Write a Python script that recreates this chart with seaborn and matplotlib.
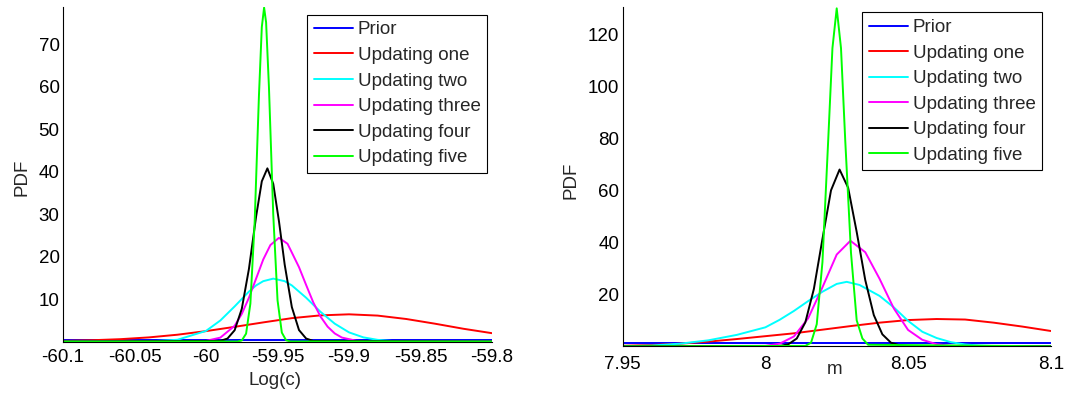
import numpy as np
import pandas as pd
import matplotlib
matplotlib.use("Agg")
import matplotlib.pyplot as plt
import seaborn as sns

# ---------------------------------------------------------------------------
# Data: posterior PDFs after each updating step
# ---------------------------------------------------------------------------
series_names = ["Prior", "Updating one", "Updating two", "Updating three",
                "Updating four", "Updating five"]
series_colors = ["#0000FF", "#FF0000", "#00FFFF", "#FF00FF", "#000000", "#00FF00"]

# Left panel: Log(c)
logc_prior_x = [-60.10, -59.80]
logc_prior_y = [0.3, 0.3]

logc_one_x = [-60.10, -60.08, -60.06, -60.04, -60.02, -60.00, -59.98, -59.96,
              -59.94, -59.92, -59.90, -59.88, -59.86, -59.84, -59.82, -59.80]
logc_one_y = [0.14, 0.30, 0.55, 0.97, 1.60, 2.45, 3.45, 4.50,
              5.50, 6.15, 6.40, 6.10, 5.30, 4.20, 3.00, 1.96]

logc_two_x = [-60.10, -60.04, -60.02, -60.00, -59.99, -59.98, -59.97, -59.965,
              -59.96, -59.953, -59.945, -59.94, -59.93, -59.92, -59.91, -59.90,
              -59.89, -59.88, -59.87, -59.86, -59.80]
logc_two_y = [0.0, 0.03, 0.41, 2.5, 4.95, 8.26, 11.75, 13.2,
              14.2, 14.8, 14.2, 13.2, 10.3, 7.0, 4.2, 2.15,
              0.98, 0.39, 0.13, 0.04, 0.0]

logc_three_x = [-60.10, -60.00, -59.99, -59.98, -59.975, -59.97, -59.965, -59.96,
                -59.955, -59.949, -59.943, -59.935, -59.93, -59.925, -59.92,
                -59.915, -59.91, -59.905, -59.895, -59.885, -59.80]
logc_three_y = [0.0, 0.15, 0.92, 3.7, 6.5, 10.3, 14.8, 19.3,
                22.7, 24.4, 23.0, 17.5, 13.3, 9.2, 5.9,
                3.5, 1.9, 0.93, 0.18, 0.02, 0.0]

logc_four_x = [-60.10, -59.99, -59.985, -59.98, -59.975, -59.97, -59.965, -59.961,
               -59.9571, -59.953, -59.949, -59.945, -59.94, -59.935, -59.93,
               -59.925, -59.80]
logc_four_y = [0.0, 0.15, 0.7, 2.65, 7.7, 17.1, 29.4, 37.7,
               40.75, 37.1, 28.3, 18.1, 8.1, 2.7, 0.7,
               0.13, 0.0]

logc_five_x = [-60.10, -59.978, -59.975, -59.972, -59.969, -59.966, -59.963, -59.961,
               -59.9594, -59.958, -59.956, -59.953, -59.95, -59.947, -59.944,
               -59.941, -59.80]
logc_five_y = [0.0, 0.0, 0.25, 1.85, 8.9, 28.1, 57.9, 74.0,
               78.6, 75.1, 59.8, 29.9, 9.7, 2.1, 0.29,
               0.0, 0.0]

# Right panel: m
m_prior_x = [7.95, 8.10]
m_prior_y = [1.15, 1.15]

m_one_x = [7.95, 7.96, 7.97, 7.98, 7.99, 8.00, 8.01, 8.02,
           8.03, 8.04, 8.05, 8.06, 8.07, 8.08, 8.09, 8.10]
m_one_y = [0.2, 0.5, 1.0, 1.8, 2.8, 3.9, 5.0, 6.4,
           7.8, 9.1, 10.1, 10.5, 10.3, 9.1, 7.6, 5.9]

m_two_x = [7.95, 7.96, 7.97, 7.98, 7.99, 8.00, 8.005, 8.01, 8.015, 8.02,
           8.025, 8.0285, 8.033, 8.04, 8.045, 8.05, 8.055, 8.06, 8.065,
           8.07, 8.075, 8.08, 8.10]
m_two_y = [0.0, 0.3, 1.0, 2.3, 4.4, 7.3, 10.2, 13.6, 17.4, 21.0,
           24.0, 24.8, 23.6, 19.4, 15.0, 9.8, 5.6, 3.2, 1.6,
           0.7, 0.3, 0.1, 0.0]

m_three_x = [7.95, 8.00, 8.005, 8.01, 8.015, 8.02, 8.025, 8.0298,
             8.035, 8.04, 8.045, 8.05, 8.055, 8.06, 8.065, 8.10]
m_three_y = [0.0, 0.19, 1.0, 3.8, 10.8, 22.7, 35.3, 40.6,
             36.2, 26.0, 14.6, 6.3, 2.5, 0.8, 0.2, 0.0]

m_four_x = [7.95, 8.005, 8.008, 8.011, 8.014, 8.017, 8.020, 8.023, 8.026,
            8.029, 8.032, 8.035, 8.038, 8.041, 8.044, 8.047, 8.05, 8.10]
m_four_y = [0.0, 0.15, 0.75, 3.0, 9.2, 22.1, 41.3, 60.0, 68.0,
            61.0, 44.0, 25.5, 12.0, 4.6, 1.4, 0.4, 0.1, 0.0]

m_five_x = [7.95, 8.014, 8.016, 8.018, 8.020, 8.022, 8.0235, 8.025,
            8.0265, 8.028, 8.030, 8.032, 8.034, 8.036, 8.10]
m_five_y = [0.0, 0.16, 1.4, 8.5, 32.4, 78.9, 114.7, 130.0,
            114.7, 78.9, 36.0, 10.0, 3.0, 0.6, 0.0]

# Axis ticks
logc_xticks = [-60.1, -60.05, -60.0, -59.95, -59.9, -59.85, -59.8]
logc_xticklabels = ["-60.1", "-60.05", "-60", "-59.95", "-59.9", "-59.85", "-59.8"]
logc_yticks = [10, 20, 30, 40, 50, 60, 70]
m_xticks = [7.95, 8.0, 8.05, 8.1]
m_xticklabels = ["7.95", "8", "8.05", "8.1"]
m_yticks = [20, 40, 60, 80, 100, 120]


def long_form(xs, ys):
    frames = []
    for name, x, y in zip(series_names, xs, ys):
        frames.append(pd.DataFrame({"x": x, "pdf": y, "series": name}))
    return pd.concat(frames, ignore_index=True)


df_logc = long_form(
    [logc_prior_x, logc_one_x, logc_two_x, logc_three_x, logc_four_x, logc_five_x],
    [logc_prior_y, logc_one_y, logc_two_y, logc_three_y, logc_four_y, logc_five_y])
df_m = long_form(
    [m_prior_x, m_one_x, m_two_x, m_three_x, m_four_x, m_five_x],
    [m_prior_y, m_one_y, m_two_y, m_three_y, m_four_y, m_five_y])

# ---------------------------------------------------------------------------
# Figure
# ---------------------------------------------------------------------------
FS = 13.5
sns.set_style("white")
plt.rcParams["font.family"] = ["Liberation Sans", "DejaVu Sans"]
plt.rcParams["font.size"] = FS

fig = plt.figure(figsize=(10.65, 3.93), dpi=100)
ax1 = fig.add_axes([0.0592, 0.131, 0.4028, 0.851])
ax2 = fig.add_axes([0.5847, 0.1188, 0.4019, 0.8626])

panels = [
    (ax1, df_logc, (-60.1, -59.8), (0, 78.7), logc_xticks, logc_xticklabels,
     logc_yticks, "Log(c)", (0.989, 0.977), 4.7, (0.495, -0.09), (-0.076, 0.492)),
    (ax2, df_m, (7.95, 8.1), (0, 130.4), m_xticks, m_xticklabels,
     m_yticks, "m", (0.980, 0.985), 6.3, (0.495, -0.042), (-0.0998, 0.49)),
]

for (ax, df, xlim, ylim, xt, xtl, yt, xlabel, leg_anchor, xpad,
     xlab_pos, ylab_pos) in panels:
    sns.lineplot(data=df, x="x", y="pdf", hue="series", hue_order=series_names,
                 palette=series_colors, estimator=None, sort=True,
                 linewidth=1.4, legend=False, ax=ax)
    ax.set_xlim(*xlim)
    ax.set_ylim(*ylim)
    ax.set_xticks(xt)
    ax.set_xticklabels(xtl)
    ax.set_yticks(yt)
    ax.set_yticklabels([str(v) for v in yt])
    ax.tick_params(axis="both", direction="in", length=2.5, width=0.6,
                   labelsize=FS, colors="black")
    ax.tick_params(axis="x", pad=xpad + 0.5)
    ax.tick_params(axis="y", pad=2.5)
    for side in ("top", "right"):
        ax.spines[side].set_visible(False)
    for side in ("left", "bottom"):
        ax.spines[side].set_color("black")
        ax.spines[side].set_linewidth(0.8)
    ax.set_xlabel(xlabel, fontsize=FS)
    ax.xaxis.set_label_coords(*xlab_pos)
    ax.set_ylabel("PDF", fontsize=FS)
    ax.yaxis.set_label_coords(*ylab_pos)
    ax.grid(False)

    leg = ax.legend(ax.lines[:len(series_names)], series_names,
                    loc="upper right", bbox_to_anchor=leg_anchor,
                    fontsize=FS, frameon=True, fancybox=False,
                    edgecolor="black", framealpha=1.0,
                    handlelength=2.08, handletextpad=0.27, labelspacing=0.45,
                    borderpad=0.35, borderaxespad=0.0)
    leg.get_frame().set_linewidth(0.8)

fig.savefig("out.png", dpi=100)
